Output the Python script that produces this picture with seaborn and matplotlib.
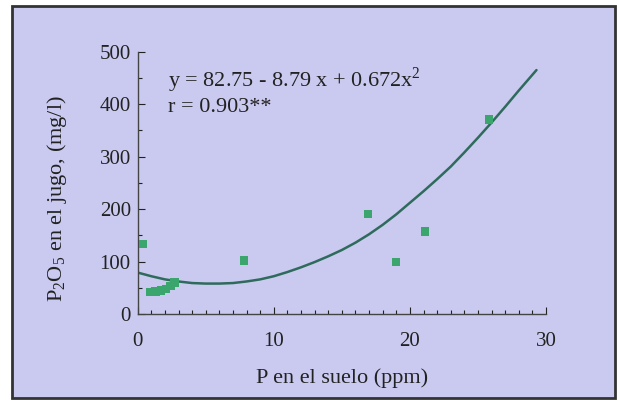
import matplotlib
matplotlib.use('Agg')
import matplotlib.pyplot as plt
from matplotlib.patches import Rectangle
from matplotlib.ticker import MultipleLocator
import pandas as pd
import seaborn as sns

# measured points: P in soil (ppm) vs P2O5 in juice (mg/l)
p_suelo = [0.4, 0.9, 1.3, 1.7, 2.1, 2.4, 2.7, 7.8, 16.9, 19.0, 21.1, 25.8]
p2o5_jugo = [133, 42, 43, 45, 48, 53, 60, 102, 190, 99, 157, 371]

# fitted curve as drawn in the figure
curva_x = [0, 1, 2, 3, 4, 5, 6, 7, 8, 9, 10, 11, 12, 13, 14, 15, 16, 17, 18,
           19, 20, 21, 22, 23, 24, 25, 26, 27, 28, 29.3]
curva_y = [79, 72, 66, 62, 59, 58, 58, 59, 62, 66, 72, 80, 89, 99, 110, 122,
           136, 152, 170, 190, 212, 234, 257, 281, 308, 336, 365, 395, 426, 465]

ecuacion = r'y = 82.75 - 8.79 x + 0.672x$^{2}$'
correlacion = 'r = 0.903**'

puntos = pd.DataFrame({'x': p_suelo, 'y': p2o5_jugo})
curva = pd.DataFrame({'x': curva_x, 'y': curva_y})

bg = '#cacaf0'
ink = '#222222'

sns.set_style('ticks')
plt.rcParams['font.family'] = ['Liberation Serif', 'DejaVu Serif']
plt.rcParams['mathtext.fontset'] = 'custom'
plt.rcParams['mathtext.rm'] = 'Liberation Serif'

fig = plt.figure(figsize=(6.2, 4.04), dpi=100, facecolor='white')
# light panel with dark frame, like the scanned figure
fig.add_artist(Rectangle((12 / 620, 6 / 404), 603 / 620, 392 / 404,
                         transform=fig.transFigure, facecolor=bg,
                         edgecolor='#333333', linewidth=2, zorder=0))
ax = fig.add_axes([137.7 / 620, 90 / 404, 408.3 / 620, 262.3 / 404])
ax.set_facecolor('none')

sns.lineplot(data=curva, x='x', y='y', ax=ax, color='#2f6b5c', linewidth=1.8,
             sort=False, estimator=None)
sns.scatterplot(data=puntos, x='x', y='y', ax=ax, marker='s', s=36,
                color='#3aa56c', edgecolor='none', zorder=3)

ax.set_xlim(0, 30)
ax.set_ylim(0, 500)
ax.xaxis.set_major_locator(MultipleLocator(10))
ax.xaxis.set_minor_locator(MultipleLocator(1))
ax.yaxis.set_major_locator(MultipleLocator(100))
ax.yaxis.set_minor_locator(MultipleLocator(50))
ax.tick_params(axis='x', which='both', direction='in', pad=13, labelsize=15,
               colors=ink, width=0.8)
ax.tick_params(axis='y', which='both', direction='in', pad=5, labelsize=15,
               colors=ink, width=0.8)
ax.tick_params(which='major', length=5)
ax.tick_params(which='minor', length=3)
sns.despine(ax=ax)
for s in ['left', 'bottom']:
    ax.spines[s].set_color('#444444')
    ax.spines[s].set_linewidth(1.0)

ax.set_xlabel('P en el suelo (ppm)', fontsize=16, color=ink, va='center')
ax.xaxis.set_label_coords(0.5, -0.244)
ax.set_ylabel(r'P$_{\rm 2}$O$_{\rm 5}$ en el jugo, (mg/l)', fontsize=16,
              color=ink, va='center')
ax.yaxis.set_label_coords(-0.198, 0.44)

ax.text(0.074, 0.892, ecuacion, transform=ax.transAxes, fontsize=16,
        color=ink, va='center', ha='left')
ax.text(0.074, 0.789, correlacion, transform=ax.transAxes, fontsize=16,
        color=ink, va='center', ha='left')

fig.savefig('out.png', dpi=100, facecolor='white')
